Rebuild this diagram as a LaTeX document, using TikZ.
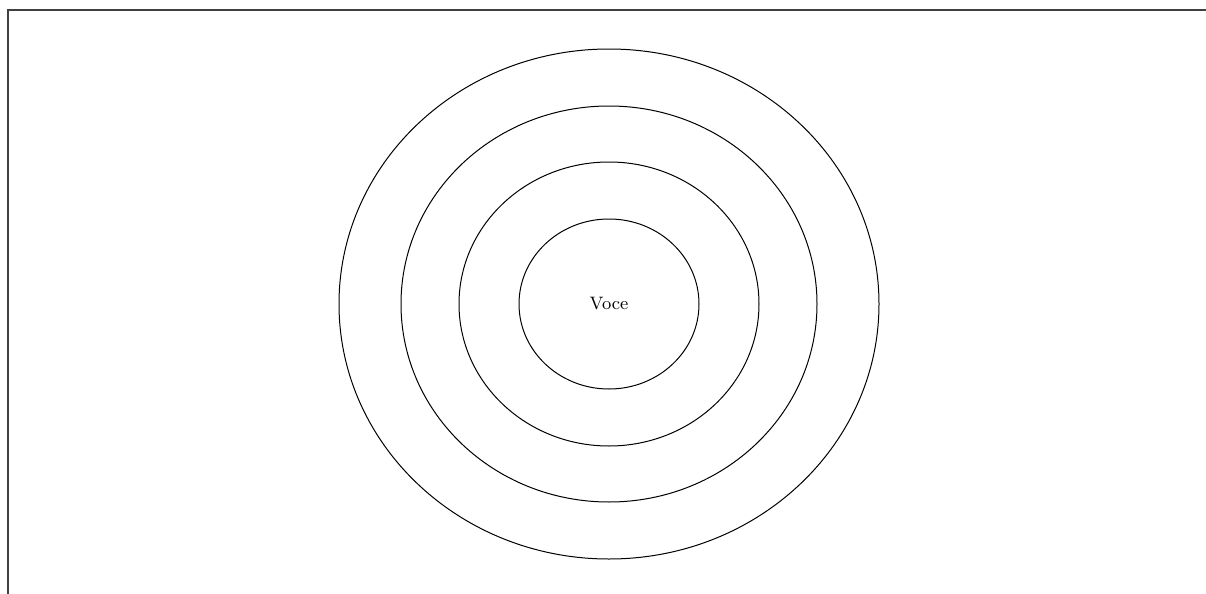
\documentclass[tikz,border=0pt]{standalone}
\usepackage{tikz}
\usetikzlibrary{shapes.geometric}

\begin{document}
\begin{tikzpicture}[
            x=0.5pt, y=-0.5pt,
            ring/.style={ellipse, draw, inner sep=0pt, line width=0.5pt},
            frame/.style={line width=1pt, black!75}
        ]
            \useasboundingbox (0,0) rectangle (1206,594);
            \draw[frame] (7.5,594) |- (1206,10);
            \coordinate (centre) at (609,304);
            % outer rings
            \foreach \w/\h [count=\i] in {270/255, 208/198, 150/142}
                \node[ring, minimum width=\w pt, minimum height=\h pt] (ring\i) at (centre) {};
            \node[ring, minimum width=90pt, minimum height=85pt, font=\small] (voce) at (centre) {Voce};
        \end{tikzpicture}
\end{document}
